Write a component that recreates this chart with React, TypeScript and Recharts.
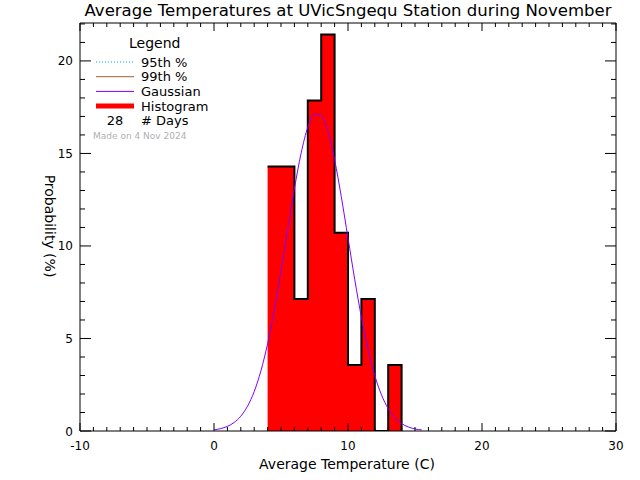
import React from "react";
import { ComposedChart, Area, Line, XAxis, YAxis } from "recharts";

// ---- data ----
const binEdges = [4, 5, 6, 7, 8, 9, 10, 11, 12, 13, 14];
const binPercents = [14.29, 14.29, 7.14, 17.86, 21.43, 10.71, 3.57, 7.14, 0, 3.57, 0];

const gaussX = [0, 0.5, 1, 1.5, 2, 2.5, 3, 3.5, 4, 4.5, 5, 5.5, 6, 6.5, 7, 7.5, 8, 8.5, 9, 9.5, 10, 10.5, 11, 11.5, 12, 12.5, 13, 13.5, 14, 14.5, 15, 15.5];
const gaussY = [0.06, 0.13, 0.25, 0.46, 0.8, 1.34, 2.13, 3.25, 4.72, 6.53, 8.63, 10.89, 13.09, 15.01, 16.42, 17.13, 17.05, 16.19, 14.66, 12.66, 10.43, 8.2, 6.15, 4.39, 2.99, 1.95, 1.21, 0.72, 0.4, 0.22, 0.11, 0.06];

const xTicks = Array.from({ length: 41 }, (_, i) => i - 10);
const xLabeledTicks = [-10, 0, 10, 20, 30];
const yTicks = Array.from({ length: 23 }, (_, i) => i);
const yLabeledTicks = [0, 5, 10, 15, 20];

const legendLabels = ["95th %", "99th %", "Gaussian", "Histogram"];
const legendColors = ["#0099ff", "#a0602a", "#7f00ff", "#ff0000"];
const dayCount = 28;

const titleText = "Average Temperatures at UVicSngequ Station during November";
const xLabel = "Average Temperature (C)";
const yLabel = "Probability  (%)";
const madeOn = "Made on 4 Nov 2024";

const histData = binEdges.map((x, i) => ({ x, p: binPercents[i] }));
const gaussData = gaussX.map((x, i) => ({ x, g: gaussY[i] }));

const FONT = "DejaVu Sans, sans-serif";

const BottomTick = (props: any) => {
  const { x, y, payload } = props;
  const v = payload.value;
  const major = v % 10 === 0;
  return (
    <g>
      <line x1={x} x2={x} y1={y} y2={y - (major ? 8 : 4)} stroke="#000" strokeWidth={1} />
      {xLabeledTicks.includes(v) && (
        <text x={x} y={y + 19} textAnchor="middle" fontFamily={FONT} fontSize={12} fill="#000">
          {String(v)}
        </text>
      )}
    </g>
  );
};

const TopTick = (props: any) => {
  const { x, y, payload } = props;
  const major = payload.value % 10 === 0;
  return <line x1={x} x2={x} y1={y} y2={y + (major ? 8 : 4)} stroke="#000" strokeWidth={1} />;
};

const LeftTick = (props: any) => {
  const { x, y, payload } = props;
  const v = payload.value;
  const major = v % 5 === 0;
  return (
    <g>
      <line x1={x} x2={x + (major ? 11 : 5)} y1={y} y2={y} stroke="#000" strokeWidth={1} />
      {yLabeledTicks.includes(v) && (
        <text x={x - 7} y={y + 4.5} textAnchor="end" fontFamily={FONT} fontSize={12} fill="#000">
          {String(v)}
        </text>
      )}
    </g>
  );
};

const RightTick = (props: any) => {
  const { x, y, payload } = props;
  const major = payload.value % 5 === 0;
  return <line x1={x} x2={x - (major ? 11 : 5)} y1={y} y2={y} stroke="#000" strokeWidth={1} />;
};

export default function App() {
  return (
    <div style={{ position: "absolute", left: 0, top: 0, width: 640, height: 480, background: "#fff" }}>
      <ComposedChart
        width={640}
        height={480}
        margin={{ top: 22, left: 79, right: 23, bottom: 48 }}
        style={{ position: "absolute", left: 0, top: 0 }}
      >
        <XAxis
          xAxisId="b"
          type="number"
          dataKey="x"
          domain={[-10, 30]}
          ticks={xTicks}
          interval={0}
          height={1}
          tickSize={0}
          tickMargin={0}
          tickLine={false}
          axisLine={{ stroke: "#000", strokeWidth: 1 }}
          tick={BottomTick}
          allowDataOverflow
        />
        <XAxis
          xAxisId="t"
          orientation="top"
          type="number"
          dataKey="x"
          domain={[-10, 30]}
          ticks={xTicks}
          interval={0}
          height={1}
          tickSize={0}
          tickMargin={0}
          tickLine={false}
          axisLine={{ stroke: "#000", strokeWidth: 1 }}
          tick={TopTick}
          allowDataOverflow
        />
        <YAxis
          yAxisId="l"
          type="number"
          domain={[0, 22.05]}
          ticks={yTicks}
          interval={0}
          width={1}
          tickSize={0}
          tickMargin={0}
          tickLine={false}
          axisLine={{ stroke: "#000", strokeWidth: 1 }}
          tick={LeftTick}
          allowDataOverflow
        />
        <YAxis
          yAxisId="r"
          orientation="right"
          type="number"
          domain={[0, 22.05]}
          ticks={yTicks}
          interval={0}
          width={1}
          tickSize={0}
          tickMargin={0}
          tickLine={false}
          axisLine={{ stroke: "#000", strokeWidth: 1 }}
          tick={RightTick}
          allowDataOverflow
        />
        <Area
          xAxisId="b"
          yAxisId="l"
          data={histData}
          dataKey="p"
          type="stepAfter"
          fill="#ff0000"
          fillOpacity={1}
          stroke="#000"
          strokeWidth={2}
          isAnimationActive={false}
          dot={false}
          activeDot={false}
        />
        <Line
          xAxisId="b"
          yAxisId="l"
          data={gaussData}
          dataKey="g"
          type="monotone"
          stroke="#7f00ff"
          strokeWidth={1}
          dot={false}
          activeDot={false}
          isAnimationActive={false}
        />
      </ComposedChart>
      <svg
        width={640}
        height={480}
        style={{ position: "absolute", left: 0, top: 0, pointerEvents: "none" }}
      >
        <text x={348} y={16} textAnchor="middle" fontFamily={FONT} fontSize={16} fill="#000" textLength={527} lengthAdjust="spacingAndGlyphs">
          {titleText}
        </text>
        <text x={347} y={469} textAnchor="middle" fontFamily={FONT} fontSize={14} fill="#000">
          {xLabel}
        </text>
        <text
          x={0}
          y={0}
          transform="translate(45,226) rotate(90)"
          textAnchor="middle"
          fontFamily={FONT}
          fontSize={14}
          fill="#000"
        >
          {yLabel}
        </text>
        <text x={129} y={48} fontFamily={FONT} fontSize={14} fill="#000">Legend</text>
        {legendLabels.map((lab, i) => {
          const cy = 62 + i * 14.7;
          return (
            <g key={lab}>
              {i === 0 ? (
                <line x1={96} x2={134} y1={cy} y2={cy} stroke={legendColors[i]} strokeWidth={1} strokeDasharray="1 2" />
              ) : (
                <line x1={96} x2={134} y1={cy} y2={cy} stroke={legendColors[i]} strokeWidth={i === 3 ? 5 : 1} />
              )}
              <text x={141} y={cy + 4.7} fontFamily={FONT} fontSize={13} fill="#000">
                {lab}
              </text>
            </g>
          );
        })}
        <text x={115} y={124.7} textAnchor="middle" fontFamily={FONT} fontSize={13} fill="#000">
          {String(dayCount)}
        </text>
        <text x={141} y={124.7} fontFamily={FONT} fontSize={13} fill="#000"># Days</text>
        <text x={93} y={139} fontFamily={FONT} fontSize={9} fill="#b0b0b0">{madeOn}</text>
      </svg>
    </div>
  );
}
